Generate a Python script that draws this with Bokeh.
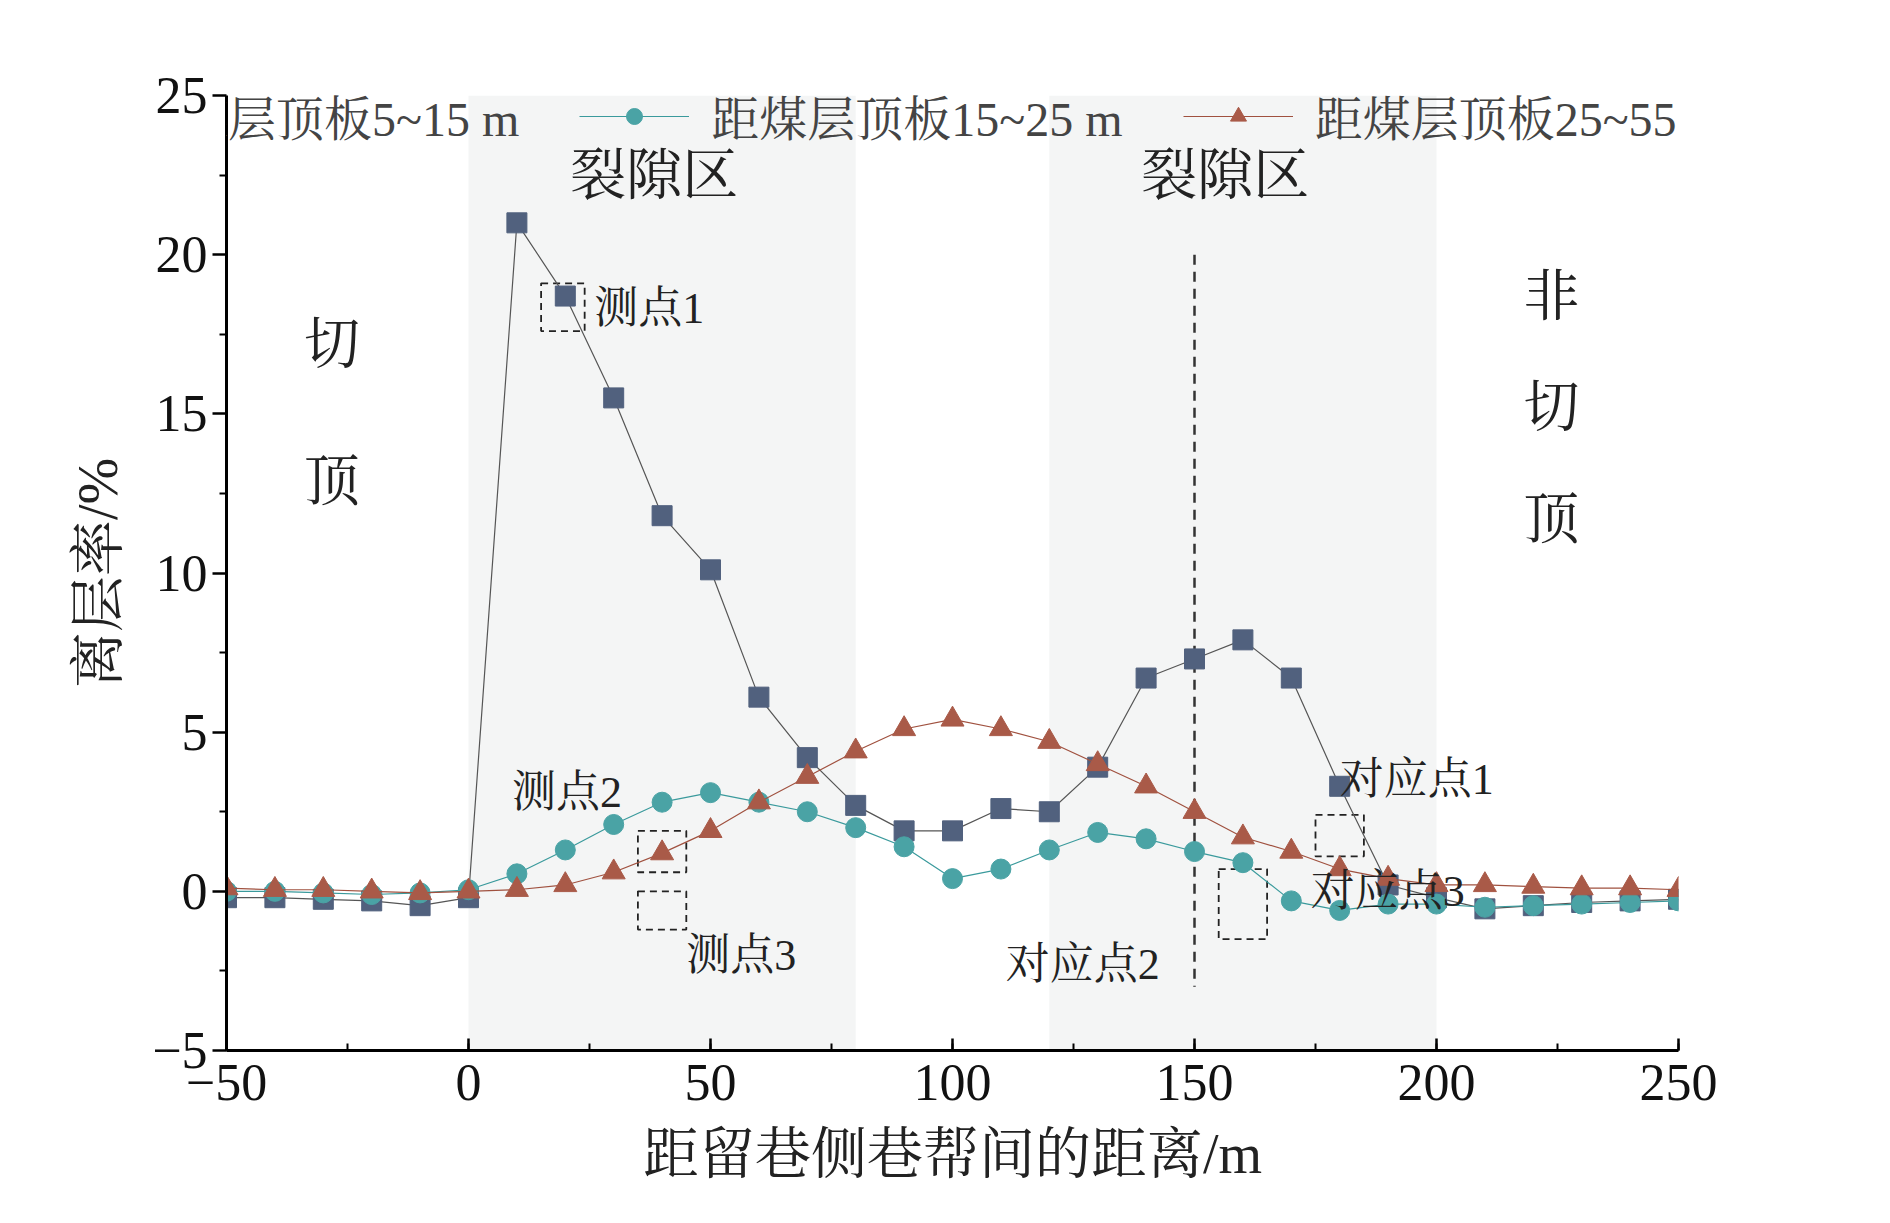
from bokeh.plotting import figure
from bokeh.models import Legend, LegendItem, Range1d, FixedTicker
from bokeh.core.properties import value
from bokeh.embed import file_html
from bokeh.resources import INLINE

x = list(range(-50, 251, 10))
s1 = [-0.2,-0.2,-0.25,-0.3,-0.45,-0.2,21,18.7,15.5,11.8,10.1,6.1,4.2,2.7,1.9,1.9,2.6,2.5,3.9,6.7,7.3,7.9,6.7,3.3,0.2,-0.2,-0.55,-0.45,-0.35,-0.3,-0.25]
s2 = [0,0,-0.05,-0.1,-0.05,0.05,0.55,1.3,2.1,2.8,3.1,2.8,2.5,2.0,1.4,0.4,0.7,1.3,1.85,1.65,1.25,0.9,-0.3,-0.6,-0.4,-0.4,-0.5,-0.45,-0.4,-0.35,-0.3]
s3 = [0.1,0.05,0.05,0,-0.05,0,0.05,0.2,0.6,1.2,1.9,2.8,3.6,4.4,5.1,5.4,5.1,4.7,4.0,3.3,2.5,1.7,1.25,0.7,0.4,0.2,0.2,0.15,0.1,0.1,0.05]
names = ["距煤层顶板5~15 m", "距煤层顶板15~25 m", "距煤层顶板25~55 m"]
zones = [(0, 80), (120, 200)]

F = "Liberation Serif, Noto Serif CJK SC, Noto Sans CJK SC"
p = figure(width=1874, height=1207, output_backend="svg", toolbar_location=None,
           x_range=Range1d(-50, 250), y_range=Range1d(-5, 25),
           min_border_left=226, min_border_right=196, min_border_top=95, min_border_bottom=157)
p.grid.visible = False
p.outline_line_color = None

for a, b in zones:
    p.quad(left=a, right=b, bottom=-5, top=25, fill_color="#f4f5f5", line_color=None)

p.segment(x0=[150], y0=[20], x1=[150], y1=[-3], line_dash="10 7", line_color="#333333", line_width=2.5)
bx = [(15,24,17.6,19.1),(35,45,0.6,1.9),(35,45,-1.2,0),(175,185,1.1,2.4),(155,165,-1.5,0.7)]
p.quad(left=[b[0] for b in bx], right=[b[1] for b in bx], bottom=[b[2] for b in bx], top=[b[3] for b in bx],
       fill_color=None, line_color="#222222", line_dash="7 5", line_width=1.8)

l1 = p.line(x, s1, color="#555555", line_width=1.2)
m1 = p.scatter(x, s1, marker="square", size=20, fill_color="#51617e", line_color="#51617e")
l2 = p.line(x, s2, color="#3a9a9c", line_width=1.2)
m2 = p.scatter(x, s2, marker="circle", size=20, fill_color="#4aa3a5", line_color="#4aa3a5")
l3 = p.line(x, s3, color="#a0513f", line_width=1.2)
m3 = p.scatter(x, s3, marker="triangle", size=23, fill_color="#a95a48", line_color="#a95a48")

txt = [(21, 22.5, "裂隙区", 56), (139, 22.5, "裂隙区", 56), (-34, 17.2, "切", 56), (-34, 12.9, "顶", 56),
       (218, 18.7, "非", 56), (218, 15.2, "切", 56), (218, 11.7, "顶", 56),
       (26, 18.3, "测点1", 44), (9, 3.1, "测点2", 44), (45, -2.0, "测点3", 44),
       (180, 3.5, "对应点1", 44), (174, 0, "对应点3", 44), (111, -2.3, "对应点2", 44)]
for tx, ty, t, fs in txt:
    p.text([tx], [ty], text=[t], text_font_size=f"{fs}px", text_font=value(F),
           text_baseline="middle", text_align="left", text_color="#222222")

p.xaxis.ticker = FixedTicker(ticks=[-50, 0, 50, 100, 150, 200, 250], minor_ticks=list(range(-50, 251, 25)))
p.yaxis.ticker = FixedTicker(ticks=[-5, 0, 5, 10, 15, 20, 25], minor_ticks=[-2.5+5*i for i in range(6)])
for ax in (p.xaxis, p.yaxis):
    ax.axis_line_width = 3
    ax.major_tick_line_width = 2.5
    ax.minor_tick_line_width = 2
    ax.major_label_text_font = F
    ax.major_label_text_font_size = "52px"
    ax.major_label_text_color = "#111111"
    ax.axis_label_text_font = F
    ax.axis_label_text_font_size = "56px"
    ax.axis_label_text_font_style = "normal"
    ax.axis_label_text_color = "#222222"
p.xaxis.major_tick_in = 12; p.xaxis.major_tick_out = 0
p.xaxis.minor_tick_in = 7; p.xaxis.minor_tick_out = 0
p.yaxis.major_tick_in = 0; p.yaxis.major_tick_out = 14
p.yaxis.minor_tick_in = 0; p.yaxis.minor_tick_out = 7
p.xaxis.major_label_standoff = 14
p.xaxis.axis_label_standoff = 20
p.yaxis.axis_label_standoff = 20
p.yaxis.major_label_overrides = {-5: "−5"}
p.xaxis.axis_label = "距留巷侧巷帮间的距离/m"
p.yaxis.axis_label = "离层率/%"

legend = Legend(items=[LegendItem(label=names[0], renderers=[l1, m1]),
                       LegendItem(label=names[1], renderers=[l2, m2]),
                       LegendItem(label=names[2], renderers=[l3, m3])],
                orientation="horizontal", border_line_color=None, background_fill_alpha=0,
                label_text_font=F, label_text_font_size="48px", glyph_width=110, glyph_height=40,
                label_standoff=22, spacing=60, margin=0, padding=0, location=(-226, 900))
p.add_layout(legend)

open("out.html", "w").write(file_html(p, INLINE))
